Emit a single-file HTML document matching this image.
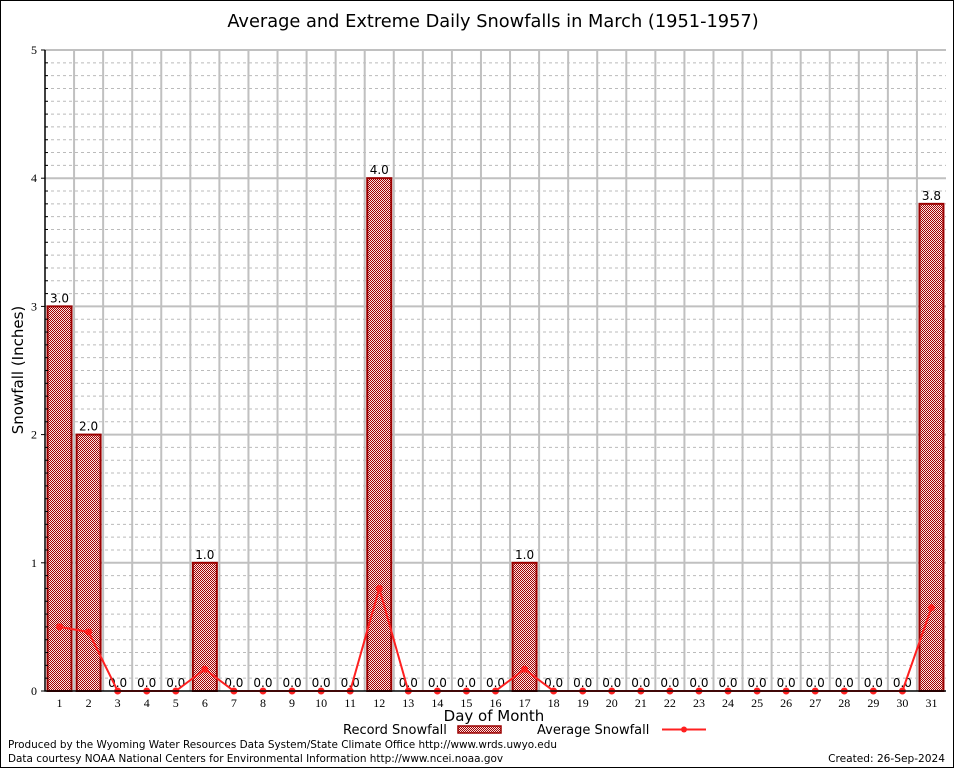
<!DOCTYPE html>
<html><head><meta charset="utf-8">
<style>
body{margin:0;background:#fff;}
svg{display:block;font-family:"DejaVu Sans","Liberation Sans",sans-serif;}
</style></head>
<body>
<svg id="chart" width="954" height="768" viewBox="0 0 954 768">
<defs>
<pattern id="chk" width="2" height="2" patternUnits="userSpaceOnUse">
<rect width="2" height="2" fill="#fbe4e4"/>
<rect width="1" height="1" fill="#a00000"/>
<rect x="1" y="1" width="1" height="1" fill="#a00000"/>
</pattern>
</defs>
<rect x="0.5" y="0.5" width="953" height="767" fill="#fff" stroke="#000"/>
<text x="493" y="27" font-size="17.8" text-anchor="middle">Average and Extreme Daily Snowfalls in March (1951-1957)</text>
<g id="grid"></g>
<g id="bars"></g>
<g id="line"></g>
<g id="axes"></g>
<text x="23" y="370" font-size="15" text-anchor="middle" transform="rotate(-90 23 370)">Snowfall (Inches)</text>
<text x="494" y="721" font-size="15" text-anchor="middle">Day of Month</text>
<g>
<text x="343" y="734" font-size="13">Record Snowfall</text>
<rect x="458" y="726" width="43" height="7" fill="url(#chk)" stroke="#9b0000" stroke-width="1.5"/>
<text x="537" y="734" font-size="13">Average Snowfall</text>
<line x1="662" y1="729.5" x2="706" y2="729.5" stroke="#ff2020" stroke-width="2"/>
<circle cx="684" cy="729.5" r="3" fill="#ff2020"/>
</g>
<text x="8" y="748" font-size="10.45">Produced by the Wyoming Water Resources Data System/State Climate Office http://www.wrds.uwyo.edu</text>
<text x="8" y="762" font-size="10.45">Data courtesy NOAA National Centers for Environmental Information http://www.ncei.noaa.gov</text>
<text x="945" y="762" font-size="10.6" text-anchor="end">Created:  26-Sep-2024</text>
</svg>
<script>
const days = [1,2,3,4,5,6,7,8,9,10,11,12,13,14,15,16,17,18,19,20,21,22,23,24,25,26,27,28,29,30,31];
const recordSnow = [3.0,2.0,0,0,0,1.0,0,0,0,0,0,4.0,0,0,0,0,1.0,0,0,0,0,0,0,0,0,0,0,0,0,0,3.8];
const avgSnow = [0.5,0.46,0,0,0,0.17,0,0,0,0,0,0.8,0,0,0,0,0.17,0,0,0,0,0,0,0,0,0,0,0,0,0,0.65];
const yTicks = [0,1,2,3,4,5];

const L=45,R=946,T=50,B=691,yMax=5;
const step=(R-L)/31;
const x=d=>L+(d-0.5)*step;
const y=v=>B-(v/yMax)*(B-T);
const NS="http://www.w3.org/2000/svg";
function mk(tag,attrs,parent){const e=document.createElementNS(NS,tag);for(const k in attrs)e.setAttribute(k,attrs[k]);parent.appendChild(e);return e;}
const grid=document.getElementById('grid'),bars=document.getElementById('bars'),line=document.getElementById('line'),axes=document.getElementById('axes');

for(let i=1;i<yMax*10;i++){
  if(i%10===0)continue;
  const g=mk('line',{x1:L,x2:R,y1:y(i/10),y2:y(i/10),stroke:'#bbb','stroke-dasharray':'3,3','stroke-width':1},grid);
  
  
}
for(let d=1;d<days.length;d++){
  const g=mk('line',{x1:L+d*step,x2:L+d*step,y1:T,y2:B,stroke:'#c0c0c0','stroke-width':2},grid);
  
  
}
yTicks.forEach(t=>{
  if(t>0){const g=mk('line',{x1:L,x2:R,y1:y(t),y2:y(t),stroke:'#c0c0c0','stroke-width':2},grid);
  
  }
  const tx=mk('text',{x:L-8,y:y(t)+4,'font-size':12,'text-anchor':'end','font-family':'Liberation Serif, serif'},axes);
  tx.textContent=t;
  
  
  const tk=mk('line',{x1:L-4,x2:L,y1:y(t),y2:y(t),stroke:'#000'},axes);
  
  
});
for(let i=1;i<yMax*10;i++){ if(i%10===0)continue;
  const tk=mk('line',{x1:L,x2:L+3,y1:y(i/10),y2:y(i/10),stroke:'#000'},axes);
  
  
}

days.forEach((d,i)=>{
  const v=recordSnow[i];
  if(v>0){
    const b=mk('rect',{x:x(d)-12,y:y(v),width:24,height:B-y(v),fill:'url(#chk)',stroke:'#9b0000','stroke-width':2},bars);
    
    
  }
  const lb=mk('text',{x:x(d),y:y(v)-4,'font-size':12,'text-anchor':'middle'},bars);
  lb.textContent=v.toFixed(1);
  
  
  const xl=mk('text',{x:x(d),y:B+16,'font-size':12,'text-anchor':'middle','font-family':'Liberation Serif, serif'},axes);
  xl.textContent=d;
  
  
});

const pts=days.map((d,i)=>x(d)+','+y(avgSnow[i])).join(' ');
const pl=mk('polyline',{points:pts,fill:'none',stroke:'#ff2020','stroke-width':2},line);


days.forEach((d,i)=>{
  const c=mk('circle',{cx:x(d),cy:y(avgSnow[i]),r:3.5,fill:'#ff2020'},line);
  
  
});

const ax=mk('path',{d:`M${L} ${T} V${B} H${R}`,fill:'none',stroke:'#000','stroke-width':1.5},axes);


</script>
</body></html>
